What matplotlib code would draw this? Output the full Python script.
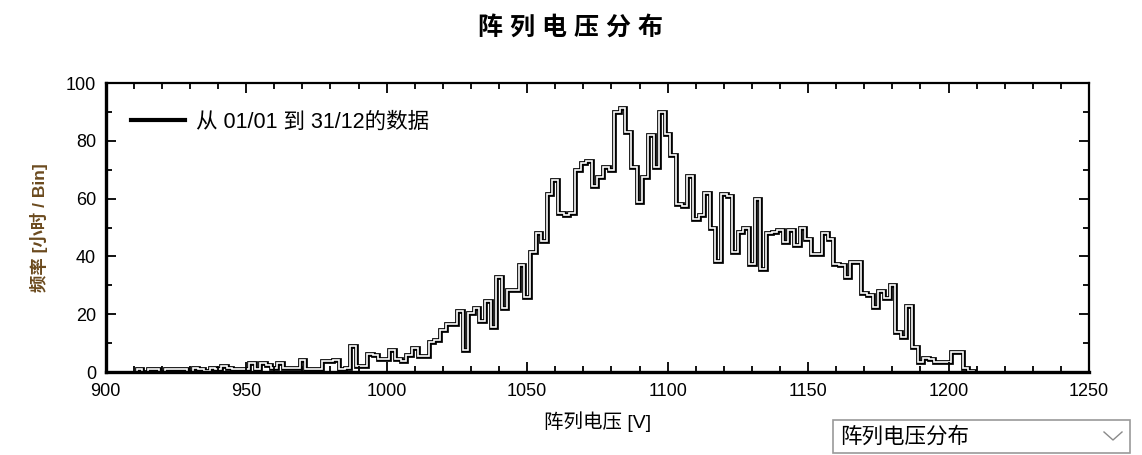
import numpy as np
import matplotlib
matplotlib.use("Agg")
import matplotlib.pyplot as plt
from matplotlib.patches import Rectangle
from matplotlib.lines import Line2D

plt.rcParams['font.family'] = ['Liberation Sans', 'Noto Sans CJK SC', 'DejaVu Sans']

# histogram data: 2 V bins, first bin starts at 911 V
bin_start = 911
bin_width = 2
hours = [
    1, 0, 1, 1, 0, 1, 1, 1, 1, 0,
    1.5, 1, 0.5, 1.5, 1, 2, 1.5, 1, 1, 1,
    3, 1, 3, 2.5, 1.5, 3, 1.5, 1.5, 1.5, 4,
    1, 1, 1, 3.7, 3.7, 4.3, 1, 1.5, 9, 2,
    2, 6.3, 5.8, 4.6, 4.6, 7.5, 4.6, 3.7, 5.8, 8.4,
    5.4, 5.4, 10.4, 11.2, 14.6, 16.7, 16.7, 21, 7.5, 20.5,
    22, 17.5, 24.5, 15.5, 33, 22, 28.5, 28.5, 37, 26,
    41.5, 48, 45.5, 61.5, 66.5, 55, 54.5, 55, 70, 72.5,
    73, 64.5, 67.5, 71, 70, 90, 91.5, 83, 71, 59,
    67.5, 82, 71, 90, 82.5, 75, 58, 57.5, 68, 53,
    54.5, 62, 50, 38.5, 61.5, 61, 41.5, 48.5, 50, 37.5,
    60, 35.5, 48, 48.5, 49, 45, 49, 43.8, 50, 46,
    41, 41, 48, 46, 37.5, 37, 33, 38, 38, 27.5,
    26.5, 22.5, 28, 25.5, 30, 14, 12, 23, 8.5, 3.5,
    5, 4.5, 3.5, 3.5, 3.5, 7, 7, 1.5, 0.5,
]
edges = bin_start + bin_width * np.arange(len(hours) + 1)

title = "阵 列 电 压 分 布"
legend_label = "从 01/01 到 31/12的数据"
xlabel = "阵列电压 [V]"
ylabel = "频率 [小时 / Bin]"
dropdown_text = "阵列电压分布"

fig = plt.figure(figsize=(11.42, 4.55), dpi=100)
ax = fig.add_axes([0.0926, 0.1824, 0.861, 0.635])

# hollow step line: thick black with thin white core
ax.stairs(hours, edges, color='black', linewidth=3.4)
ax.stairs(hours, edges, color='white', linewidth=1.2)

ax.set_xlim(900, 1250)
ax.set_ylim(0, 100)
ax.set_xticks(np.arange(900, 1251, 50))
ax.set_xticks(np.arange(900, 1251, 10), minor=True)
ax.set_yticks(np.arange(0, 101, 20))
ax.set_yticks(np.arange(0, 101, 10), minor=True)
ax.tick_params(which='both', direction='in', top=True, right=True, width=1.3,
               labelsize=13, colors='black')
ax.tick_params(which='major', length=7)
ax.tick_params(which='minor', length=4)
ax.tick_params(axis='x', which='major', pad=8)
ax.tick_params(axis='y', which='major', pad=7)
for s in ['left', 'bottom']:
    ax.spines[s].set_linewidth(2.4)
for s in ['top', 'right']:
    ax.spines[s].set_linewidth(1.6)

ax.set_xlabel(xlabel, fontsize=14, labelpad=8)
ax.set_ylabel(ylabel, fontsize=12.5, color='#6b4a1e', fontweight='bold', labelpad=13)

handle = Line2D([], [], color='black', linewidth=3)
ax.legend([handle], [legend_label], loc='upper left', bbox_to_anchor=(0.006, 0.968),
          frameon=False, fontsize=15.5, handlelength=2.5, handletextpad=0.5)

fig.suptitle(title, fontsize=18, fontweight='bold', y=0.965)

# dropdown box at bottom right
fig.add_artist(Rectangle((833 / 1142, 2 / 455), 297 / 1142, 33 / 455,
                         transform=fig.transFigure, facecolor='white',
                         edgecolor='#9a9a9a', linewidth=1.2))
fig.text(840 / 1142, 1 - 437 / 455, dropdown_text, fontsize=15.5, va='center', ha='left')
fig.add_artist(Line2D([1104 / 1142, 1113 / 1142, 1122 / 1142],
                      [1 - 432 / 455, 1 - 440 / 455, 1 - 432 / 455],
                      transform=fig.transFigure, color='#8a8a8a', linewidth=1.0))

fig.savefig("out.png", dpi=100)
